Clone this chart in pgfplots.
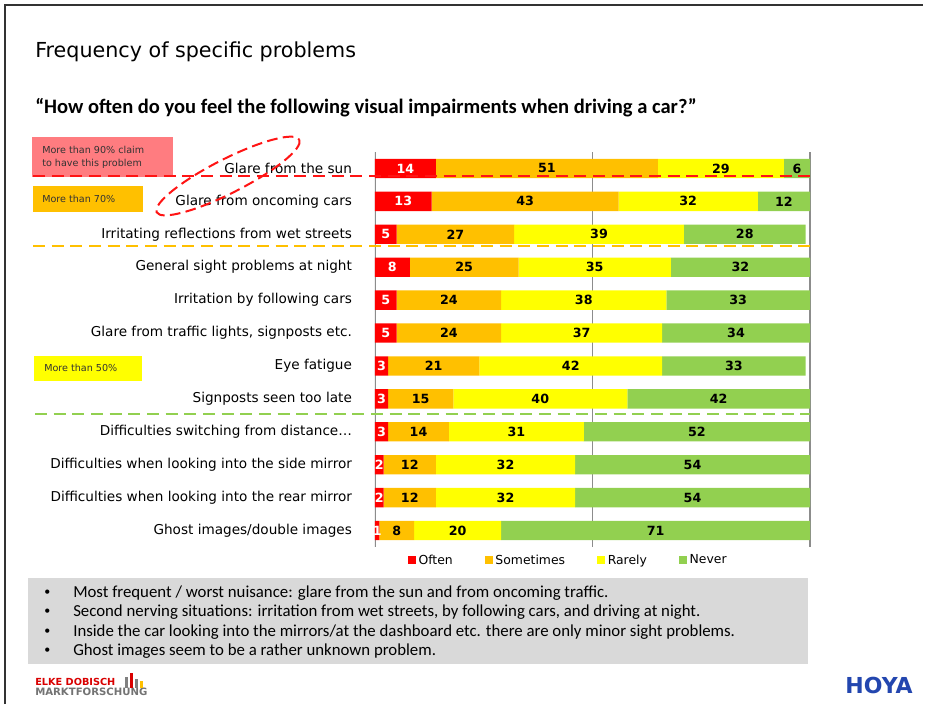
\documentclass[border=0pt]{standalone}
\usepackage{pgfplots}
\pgfplotsset{compat=1.18}
\usepackage{pgfplotstable}
\usepackage{fontspec}
\setmainfont{DejaVu Sans}
\newfontfamily\carlito{Carlito}
\definecolor{cOften}{RGB}{255,0,0}
\definecolor{cSome}{RGB}{255,192,0}
\definecolor{cRare}{RGB}{255,255,0}
\definecolor{cNever}{RGB}{146,208,80}
\definecolor{cPink}{RGB}{255,124,128}
\definecolor{cBox}{RGB}{217,217,217}
\definecolor{cHoya}{RGB}{35,70,175}
\definecolor{cDash}{RGB}{255,20,20}

\pgfplotstableread{
y o s r n
1 14 51 29 6
2 13 43 32 12
3 5 27 39 28
4 8 25 35 32
5 5 24 38 33
6 5 24 37 34
7 3 21 42 33
8 3 15 40 42
9 3 14 31 52
10 2 12 32 54
11 2 12 32 54
12 1 8 20 71
}\data

\pgfplotsset{
  geom/.style={at={(281.25pt,-410.25pt)}, anchor=south west, scale only axis,
    width=326.25pt, height=296.25pt, xmin=0, xmax=100, ymin=0.5, ymax=12.5, y dir=reverse},
  lab/.style={draw=none, mark=none, nodes near coords, point meta=explicit symbolic,
    every node near coord/.append style={anchor=center, font=\bfseries\fontsize{9.5}{10}\selectfont, text=#1, inner sep=0pt}},
}

\begin{document}
\begin{tikzpicture}
\begin{scope}[x=0.75pt,y=-0.75pt]
\path[use as bounding box] (0,0) rectangle (933,704);
\fill[white] (0,0) rectangle (933,704);
\end{scope}

\begin{axis}[geom,
  xbar stacked, bar width=14.5pt,
  axis line style={draw=none},
  xtick={50,100}, xticklabels={}, xtick style={draw=none},
  xmajorgrids, major grid style={black!45, line width=0.8pt},
  ytick={1,...,12},
  yticklabels={Glare from the sun, Glare from oncoming cars, Irritating reflections from wet streets, General sight problems at night, Irritation by following cars, {Glare from traffic lights, signposts etc.}, Eye fatigue, Signposts seen too late, Difficulties switching from distance\ldots, Difficulties when looking into the side mirror, Difficulties when looking into the rear mirror, Ghost images/double images},
  ytick style={draw=none},
  minor ytick={0.5,1.5,...,12.5},
  minor y tick style={black!45, line width=0.8pt},
  minor tick length=3.75pt,
  tick align=outside, ytick pos=left,
  yticklabel style={font=\fontsize{10.2}{11}\selectfont, xshift=-9.5pt},
  legend style={at={(rel axis cs:0.075,-0.012)}, anchor=north west, draw=none, fill=none,
    legend columns=4, font=\fontsize{9.3}{10}\selectfont, inner sep=0pt,
    /tikz/every even column/.append style={column sep=22pt}},
  legend image code/.code={\fill[#1] (0pt,-3pt) rectangle (6pt,3pt);},
]
\addplot[fill=cOften, draw=none] table[x=o, y=y] {\data};
\addplot[fill=cSome, draw=none] table[x=s, y=y] {\data};
\addplot[fill=cRare, draw=none] table[x=r, y=y] {\data};
\addplot[fill=cNever, draw=none] table[x=n, y=y] {\data};
\legend{Often, Sometimes, Rarely, Never}
\draw[black!45, line width=0.8pt] (axis cs:0,0.5) -- (axis cs:0,12.5);
\end{axis}

\begin{axis}[geom, hide axis, clip=false]
\addplot[lab=white] table[x expr=\thisrow{o}/2, y=y, meta=o] {\data};
\addplot[lab=black] table[x expr=\thisrow{o}+\thisrow{s}/2, y=y, meta=s] {\data};
\addplot[lab=black] table[x expr=\thisrow{o}+\thisrow{s}+\thisrow{r}/2, y=y, meta=r] {\data};
\addplot[lab=black] table[x expr=\thisrow{o}+\thisrow{s}+\thisrow{r}+\thisrow{n}/2, y=y, meta=n] {\data};
\end{axis}

\begin{scope}[x=0.75pt,y=-0.75pt]
\draw[black!80, line width=1.2pt] (5,704) -- (5,5) -- (923,5);
\node[anchor=base west, inner sep=0pt, font=\fontsize{15.5}{17}\selectfont] at (35,57) {Frequency of specific problems};
\node[anchor=base west, inner sep=0pt, font=\carlito\bfseries\fontsize{15.4}{17}\selectfont] at (35,113) {“How often do you feel the following visual impairments when driving a car?”};
% annotation boxes
\fill[cPink] (32,137) rectangle (173,177);
\node[anchor=west, inner sep=0pt, font=\fontsize{7.2}{9}\selectfont, text=black!80] at (42,150) {More than 90\% claim};
\node[anchor=west, inner sep=0pt, font=\fontsize{7.2}{9}\selectfont, text=black!80] at (42,164) {to have this problem};
\fill[cSome] (33,186) rectangle (143,212);
\node[anchor=west, inner sep=0pt, font=\fontsize{7.2}{9}\selectfont, text=black!80] at (42,199) {More than 70\%};
\fill[cRare] (34,356) rectangle (142,381);
\node[anchor=west, inner sep=0pt, font=\fontsize{7.2}{9}\selectfont, text=black!80] at (44,368) {More than 50\%};
% dashed lines
\draw[cDash, line width=1.8pt, dash pattern=on 9pt off 5pt] (33,176) -- (810,176);
\draw[cSome, line width=1.8pt, dash pattern=on 9pt off 5pt] (33,246) -- (810,246);
\draw[cNever, line width=1.8pt, dash pattern=on 9pt off 5pt] (35,414) -- (810,414);
\draw[cDash, line width=1.5pt, dash pattern=on 8pt off 4pt, rotate around={27:(228,176)}] (228,176) ellipse (80 and 17);
% bullet box
\fill[cBox] (28,578) rectangle (808,664);
\foreach \yy/\tt in {593/{Most frequent / worst nuisance: glare from the sun and from oncoming traffic.},
  612/{Second nerving situations: irritation from wet streets, by following cars, and driving at night.},
  632/{Inside the car looking into the mirrors/at the dashboard etc. there are only minor sight problems.},
  651/{Ghost images seem to be a rather unknown problem.}}{
  \node[anchor=west, inner sep=0pt, font=\carlito\fontsize{9}{10}\selectfont] at (44,\yy) {•};
  \node[anchor=west, inner sep=0pt, font=\carlito\fontsize{12.6}{14}\selectfont] at (73,\yy) {\tt};
}
% logos
\node[anchor=west, inner sep=0pt, font=\bfseries\fontsize{7.3}{8}\selectfont, text=red!85!black] at (35,682) {ELKE DOBISCH};
\node[anchor=west, inner sep=0pt, font=\bfseries\fontsize{7.6}{8}\selectfont, text=black!55] at (35,692) {MARKTFORSCHUNG};
\fill[black!50] (125,677) rectangle (128,688);
\fill[red!85!black] (130,673) rectangle (133,688);
\fill[black!50] (135,679) rectangle (138,688);
\fill[cSome] (140,681) rectangle (143,688);
\node[anchor=center, inner sep=0pt, font=\bfseries\fontsize{16.5}{18}\selectfont, text=cHoya] at (879,685) {HOYA};
\end{scope}
\end{tikzpicture}
\end{document}
